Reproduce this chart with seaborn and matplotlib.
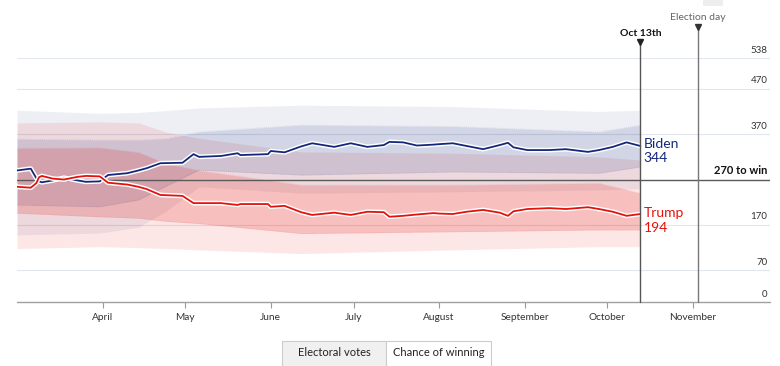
import matplotlib
matplotlib.use("Agg")
import numpy as np
import pandas as pd
import matplotlib.pyplot as plt
import matplotlib.patheffects as pe
from matplotlib.patches import Rectangle
import seaborn as sns

sns.set_theme(style="white")
plt.rcParams['font.family'] = ['Lato', 'DejaVu Sans']

# central forecast of electoral votes
line_dates = ["2020-03-01", "2020-03-06", "2020-03-08", "2020-03-09", "2020-03-10", "2020-03-14",
              "2020-03-18", "2020-03-23", "2020-03-26", "2020-03-31", "2020-04-03", "2020-04-10",
              "2020-04-14", "2020-04-17", "2020-04-22", "2020-04-30", "2020-05-04", "2020-05-06",
              "2020-05-14", "2020-05-20", "2020-05-21", "2020-05-31", "2020-06-01", "2020-06-06",
              "2020-06-12", "2020-06-16", "2020-06-24", "2020-06-30", "2020-07-06", "2020-07-12",
              "2020-07-14", "2020-07-19", "2020-07-24", "2020-07-30", "2020-08-01", "2020-08-06",
              "2020-08-11", "2020-08-17", "2020-08-23", "2020-08-26", "2020-08-28", "2020-09-02",
              "2020-09-10", "2020-09-16", "2020-09-24", "2020-09-28", "2020-10-03", "2020-10-08",
              "2020-10-13"]
biden = [290, 294, 273, 266, 264, 268, 274, 268, 265, 266, 280, 284,
         290, 295, 306, 307, 326, 320, 322, 328, 324, 326, 333, 330,
         343, 350, 342, 350, 342, 346, 353, 352, 345, 347, 348, 350,
         344, 337, 346, 351, 341, 335, 335, 337, 331, 335, 342, 352,
         344]
trump = [254, 252, 262, 275, 278, 272, 270, 276, 278, 277, 263, 259,
         254, 249, 236, 234, 218, 218, 218, 214, 216, 216, 210, 212,
         198, 192, 197, 192, 199, 198, 188, 190, 193, 196, 195, 194,
         199, 203, 197, 190, 200, 205, 207, 205, 209, 205, 199, 190,
         194]

# uncertainty bands (inner and outer ranges)
band_dates = ["2020-03-01", "2020-03-31", "2020-04-14", "2020-04-24", "2020-05-06",
              "2020-06-12", "2020-08-06", "2020-09-28", "2020-10-13"]
biden_outer_hi = [423, 416, 418, 422, 428, 434, 431, 420, 423]
biden_inner_hi = [359, 357, 357, 360, 375, 390, 387, 375, 390]
biden_inner_lo = [214, 210, 225, 255, 291, 280, 287, 284, 298]
biden_outer_lo = [148, 152, 165, 200, 254, 240, 243, 247, 250]
trump_outer_hi = [395, 397, 395, 375, 361, 331, 328, 320, 313]
trump_inner_hi = [339, 340, 330, 305, 290, 258, 258, 262, 240]
trump_inner_lo = [196, 188, 185, 178, 173, 151, 155, 159, 159]
trump_outer_lo = [118, 122, 120, 118, 115, 107, 115, 122, 122]

y_levels = [0, 70, 170, 370, 470, 538]
month_ticks = ["2020-04-01", "2020-05-01", "2020-06-01", "2020-07-01",
               "2020-08-01", "2020-09-01", "2020-10-01", "2020-11-01"]
month_labels = ["April", "May", "June", "July", "August", "September", "October", "November"]
today = "2020-10-13"
election = "2020-11-03"

BLUE = '#14287a'
RED = '#e3120b'

df = pd.DataFrame({'date': pd.to_datetime(line_dates), 'Biden': biden, 'Trump': trump})
bd = pd.to_datetime(band_dates)

fig = plt.figure(figsize=(7.8, 3.66), dpi=100)
ax = fig.add_axes([17/780, 64/366, 753/780, 244/366])

# bands
ax.fill_between(bd, biden_outer_lo, biden_outer_hi, color=BLUE, alpha=0.07, lw=0, zorder=1)
ax.fill_between(bd, trump_outer_lo, trump_outer_hi, color=RED, alpha=0.10, lw=0, zorder=1)
ax.fill_between(bd, biden_inner_lo, biden_inner_hi, color=BLUE, alpha=0.13, lw=0, zorder=1)
ax.fill_between(bd, trump_inner_lo, trump_inner_hi, color=RED, alpha=0.18, lw=0, zorder=1)
for edge, c in [(biden_inner_hi, BLUE), (biden_inner_lo, BLUE), (trump_inner_hi, RED), (trump_inner_lo, RED)]:
    ax.plot(bd, edge, color=c, alpha=0.15, lw=0.6, ls=(0, (1, 1.5)), zorder=1)

# gridlines
for v in y_levels[1:]:
    ax.axhline(v, color='#e2e6ee', lw=0.8, zorder=0)
ax.axhline(0, color='#a0a0a0', lw=1, zorder=2, clip_on=False)
ax.axhline(270, color='#5a5a5a', lw=1, zorder=2)

# central lines with white halo
halo = [pe.withStroke(linewidth=3.4, foreground='white')]
sns.lineplot(data=df, x='date', y='Biden', color=BLUE, lw=1.3, ax=ax, zorder=4)
ax.lines[-1].set_path_effects(halo)
sns.lineplot(data=df, x='date', y='Trump', color=RED, lw=1.3, ax=ax, zorder=4)
ax.lines[-1].set_path_effects(halo)

ax.set_ylim(0, 538)
ax.set_xlim(pd.Timestamp("2020-03-01"), pd.Timestamp("2020-11-29"))
for s in ax.spines.values():
    s.set_visible(False)
ax.set_xlabel('')
ax.set_ylabel('')
ax.set_yticks([])
ax.set_xticks(pd.to_datetime(month_ticks))
ax.set_xticklabels(month_labels)
ax.tick_params(axis='x', bottom=True, length=4, width=0.8, color='#999999', pad=4,
               labelsize=7.3, labelcolor='#333333')

# right-hand value labels
ytr = ax.get_yaxis_transform()
for v in y_levels:
    ax.annotate(str(v), xy=(0.9965, v), xycoords=ytr, xytext=(0, 2.5), textcoords='offset points',
                ha='right', va='bottom', fontsize=7, color='#333333')
ax.annotate('270 to win', xy=(0.9965, 270), xycoords=ytr, xytext=(0, 2.5), textcoords='offset points',
            ha='right', va='bottom', fontsize=8, color='#111111', fontweight='bold')

# today and election-day markers
t = pd.Timestamp(today)
e = pd.Timestamp(election)
ax.plot([t, t], [0, 573], color='#555555', lw=1, zorder=5, clip_on=False)
ax.plot([t], [573], marker='v', ms=4, color='#222222', zorder=5, clip_on=False)
ax.text(t, 593, 'Oct 13th', ha='center', va='center', fontsize=7.5, fontweight='bold',
        color='#111111', family=['Liberation Sans Narrow', 'Lato'])
ax.plot([e, e], [0, 606], color='#777777', lw=1, zorder=5, clip_on=False)
ax.plot([e], [606], marker='v', ms=4, color='#333333', zorder=5, clip_on=False)
ax.text(e, 628, 'Election day', ha='center', va='center', fontsize=7.5,
        color='#666666', family=['Liberation Sans Narrow', 'Lato'])

# end labels
ax.annotate(f'Biden\n{biden[-1]}', xy=(t, 333), xytext=(2.5, 0), textcoords='offset points',
            ha='left', va='center', fontsize=10, color=BLUE, linespacing=1.25)
ax.annotate(f'Trump\n{trump[-1]}', xy=(t, 180), xytext=(2.5, 0), textcoords='offset points',
            ha='left', va='center', fontsize=10, color=RED, linespacing=1.25)

# toggle buttons under the chart
def px_rect(x0, y0, x1, y1, fc):
    fig.add_artist(Rectangle((x0/780, 1 - y1/366), (x1 - x0)/780, (y1 - y0)/366,
                             transform=fig.transFigure, facecolor=fc, edgecolor='#cccccc', lw=0.8))

px_rect(282, 341, 386, 368, '#f0f0f0')
px_rect(386, 341, 491, 368, 'white')
fig.text(334/780, 1 - 353/366, 'Electoral votes', ha='center', va='center', fontsize=8, color='#222222')
fig.text(438.5/780, 1 - 353/366, 'Chance of winning', ha='center', va='center', fontsize=8, color='#222222')
fig.add_artist(Rectangle((703/780, 1 - 6/366), 20/780, 6/366, transform=fig.transFigure,
                         facecolor='#eeeeee', edgecolor='none'))

fig.savefig('out.png', dpi=100)
